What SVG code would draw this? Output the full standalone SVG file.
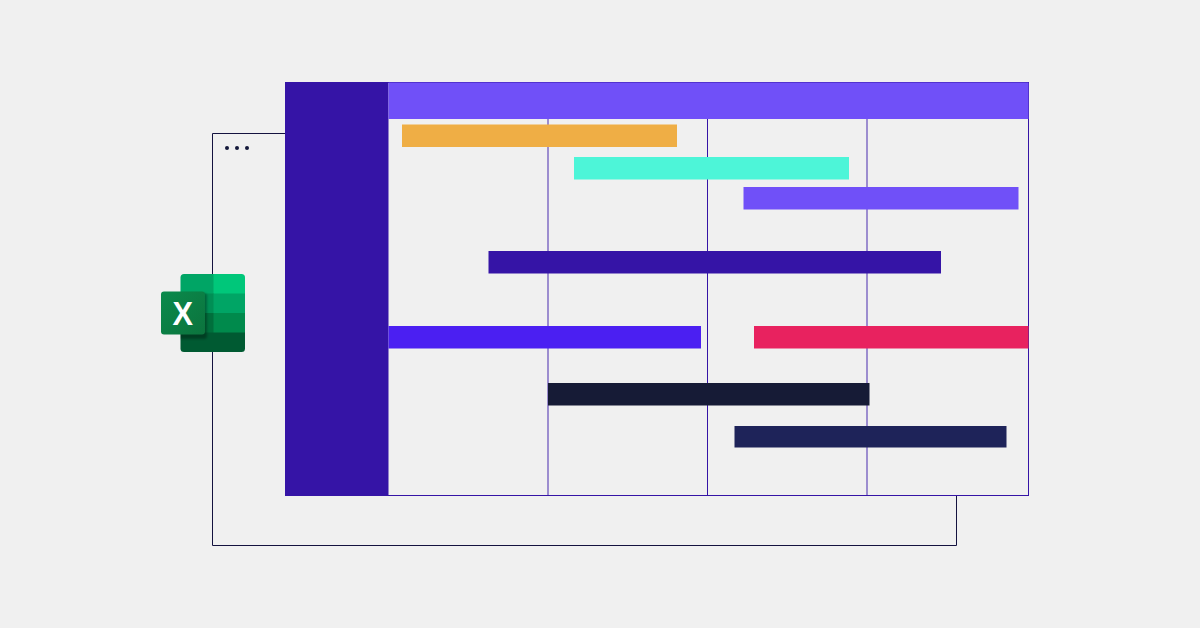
<svg xmlns="http://www.w3.org/2000/svg" width="1200" height="628" viewBox="0 0 1200 628">
<style>
.frame{fill:none;stroke:#14123f;stroke-width:1}
.grid{fill:none;stroke:#3514a6;stroke-width:1}
</style>
<defs>
<clipPath id="body"><rect x="180.500" y="274" width="64.500" height="78" rx="3.500"/></clipPath>
<linearGradient id="tile" x1="0" y1="0" x2="1" y2="1"><stop offset="0" stop-color="#0a8a4c"/><stop offset="1" stop-color="#0c733d"/></linearGradient>
<filter id="soft" x="-20%" y="-20%" width="140%" height="140%"><feGaussianBlur stdDeviation="1.200"/></filter>
</defs>
<rect width="1200" height="628" fill="#f0f0f0"/>
<g id="connectors">
<path class="frame" d="M285 133.500H212.500V545.500H956.500V496"/>
</g>
<g id="dots" fill="#14183a"><circle cx="227" cy="148" r="2"/><circle cx="237" cy="148" r="2"/><circle cx="247" cy="148" r="2"/></g>
<g id="chart">
<path class="grid" d="M548 119V495.500M867 119V495.500" stroke-opacity=".9"/>
<path class="grid" d="M707.500 119V495.500"/>
<rect class="grid" x="285.500" y="82.500" width="743" height="413"/>
<rect x="285" y="82" width="103.500" height="414" fill="#3514a6"/>
<rect x="388.500" y="82.500" width="640" height="36.500" fill="#7050f8"/>
</g>
<g id="bar-orange"><rect x="402" y="124.500" width="275" height="22.500" fill="#efae45"/></g>
<g id="bar-teal"><rect x="574" y="157" width="275" height="22.500" fill="#4df5d8"/></g>
<g id="bar-violet"><rect x="743.500" y="187" width="275" height="22.500" fill="#7050f8"/></g>
<g id="bar-indigo"><rect x="488.500" y="251" width="452.500" height="22.500" fill="#3514a6"/></g>
<g id="bar-blue"><rect x="388.500" y="326" width="312.500" height="22.500" fill="#4b1ff2"/></g>
<g id="bar-pink"><rect x="754" y="326" width="274.500" height="22.500" fill="#e8225f"/></g>
<g id="bar-black"><rect x="548" y="383" width="321.500" height="22.500" fill="#161b36"/></g>
<g id="bar-navy"><rect x="734.500" y="426" width="272" height="21.500" fill="#1e2359"/></g>
<g id="excel-icon">
<g clip-path="url(#body)">
<rect x="180" y="274" width="34" height="20" fill="#00a565"/>
<rect x="213.500" y="274" width="32" height="20" fill="#00c77a"/>
<rect x="180" y="293.500" width="34" height="20" fill="#008f55"/>
<rect x="213.500" y="293.500" width="32" height="20" fill="#00a565"/>
<rect x="180" y="313" width="34" height="20" fill="#006f3c"/>
<rect x="213.500" y="313" width="32" height="20" fill="#008a4c"/>
<rect x="180" y="332.500" width="66" height="20" fill="#005a32"/>
<rect x="163" y="293" width="44" height="46" rx="3" fill="#000" opacity=".3" filter="url(#soft)"/>
</g>
<rect x="161" y="291.500" width="44" height="43" rx="3" fill="url(#tile)"/>
<text x="182.700" y="324.500" text-anchor="middle" font-family="'Liberation Sans',Arial,sans-serif" font-size="34" font-weight="700" fill="#fff" textLength="20.500" lengthAdjust="spacingAndGlyphs">X</text>
</g>
</svg>
